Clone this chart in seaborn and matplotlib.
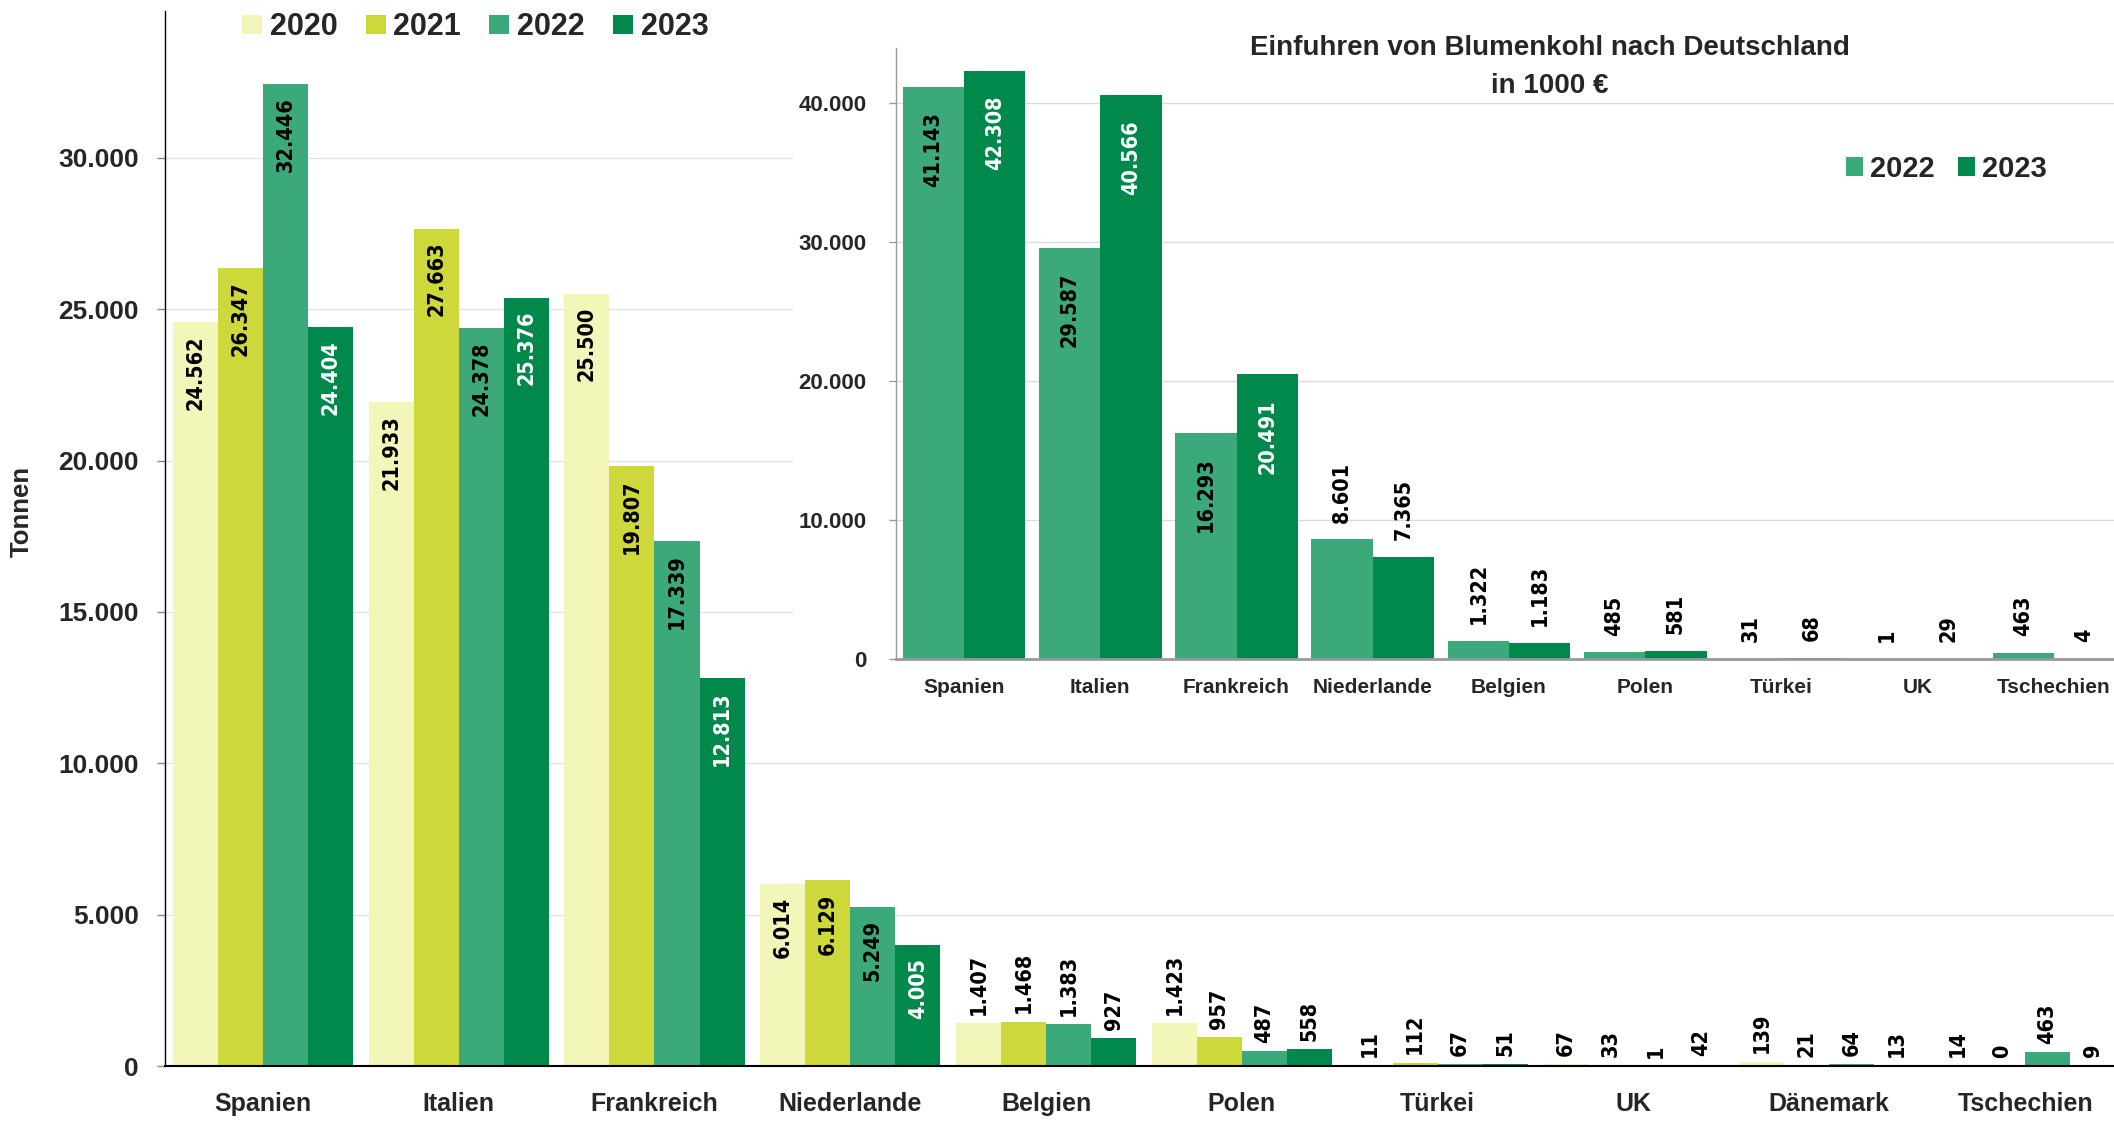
import matplotlib
matplotlib.use("Agg")
import matplotlib.pyplot as plt
from matplotlib.patches import Rectangle
import numpy as np
import pandas as pd
import seaborn as sns

# ---------------- data ----------------
countries = ["Spanien", "Italien", "Frankreich", "Niederlande", "Belgien",
             "Polen", "Türkei", "UK", "Dänemark", "Tschechien"]
years = ["2020", "2021", "2022", "2023"]
t2020 = [24562, 21933, 25500, 6014, 1407, 1423, 11, 67, 139, 14]
t2021 = [26347, 27663, 19807, 6129, 1468, 957, 112, 33, 21, 0]
t2022 = [32446, 24378, 17339, 5249, 1383, 487, 67, 1, 64, 463]
t2023 = [24404, 25376, 12813, 4005, 927, 558, 51, 42, 13, 9]

inset_countries = ["Spanien", "Italien", "Frankreich", "Niederlande", "Belgien",
                   "Polen", "Türkei", "UK", "Tschechien"]
inset_years = ["2022", "2023"]
e2022 = [41143, 29587, 16293, 8601, 1322, 485, 31, 1, 463]
e2023 = [42308, 40566, 20491, 7365, 1183, 581, 68, 29, 4]

main_yticks = [0, 5000, 10000, 15000, 20000, 25000, 30000]
inset_yticks = [0, 10000, 20000, 30000, 40000]
inset_title = ["Einfuhren von Blumenkohl nach Deutschland", "in 1000 €"]

palette = {"2020": "#F2F6B9", "2021": "#CFD83A", "2022": "#3CA97A", "2023": "#00894B"}

def de(v):
    return f"{v:,}".replace(",", ".")

# ---------------- style ----------------
sns.set_style("white")
plt.rcParams["font.family"] = ["Liberation Sans", "DejaVu Sans"]
plt.rcParams["font.weight"] = "bold"
plt.rcParams["axes.labelweight"] = "bold"

LBL = dict(family=["DejaVu Sans"], stretch="condensed", weight="bold", fontsize=15.5)

W, H, DPI = 2114, 1121, 100
fig = plt.figure(figsize=(W / DPI, H / DPI), dpi=DPI)

def fx(px):
    return px / W

def fy(py):
    return 1 - py / H

# ---------------- main chart ----------------
rows = []
for yr, vals in zip(years, [t2020, t2021, t2022, t2023]):
    for c, v in zip(countries, vals):
        rows.append({"Land": c, "Jahr": yr, "Tonnen": v})
df_main = pd.DataFrame(rows)

ax = fig.add_axes([fx(165), fy(1066), (2123 - 165) / W, (1066 - 11) / H])
sns.barplot(data=df_main, x="Land", y="Tonnen", hue="Jahr", order=countries,
            hue_order=years, palette=palette, width=0.92, gap=0, saturation=1,
            errorbar=None, linewidth=0, ax=ax)
ax.set_xlim(-0.5, len(countries) - 0.5)
ax.set_ylim(0, 34850)

for cont, yr in zip(ax.containers, years):
    for bar in cont:
        v = int(round(bar.get_height()))
        xc = bar.get_x() + bar.get_width() / 2
        if v > 3000:
            col = "white" if yr == "2023" else "black"
            ax.annotate(de(v), (xc, v), xytext=(0, -9.5), textcoords="offset points",
                        rotation=90, ha="center", va="top", color=col, **LBL)
        else:
            ax.annotate(de(v), (xc, v), xytext=(0, 6), textcoords="offset points",
                        rotation=90, ha="center", va="bottom", color="black", **LBL)

ax.set_xticks(range(len(countries)))
ax.set_xticklabels(countries, fontsize=18, fontweight="bold")
ax.set_xticks(np.arange(-0.5, len(countries), 1), minor=True)
ax.tick_params(axis="x", which="major", length=0, pad=19)
ax.tick_params(axis="x", which="minor", length=10, width=1, color="#555555", direction="out")
ax.set_yticks(main_yticks)
ax.set_yticklabels([de(v) for v in main_yticks], fontsize=19, fontweight="bold")
ax.tick_params(axis="y", length=6, width=1, color="#888888", pad=13, left=True)
ax.yaxis.grid(True, color="#E3E3E3", lw=1)
ax.xaxis.grid(False)
ax.set_axisbelow(True)
ax.set_xlabel("")
ax.set_ylabel("Tonnen", fontsize=18.5, fontweight="bold")
ax.yaxis.label.set_va("center")
ax.yaxis.set_label_coords(-0.073, 0.526)
for s in ["top", "right"]:
    ax.spines[s].set_visible(False)
ax.spines["left"].set_color("black")
ax.spines["left"].set_linewidth(1)
ax.spines["bottom"].set_color("black")
ax.spines["bottom"].set_linewidth(1.5)

handles, labels = ax.get_legend_handles_labels()
ax.legend(handles, labels, loc="center left", bbox_to_anchor=(fx(242), fy(27)),
          bbox_transform=fig.transFigure, ncol=4, frameon=False,
          prop={"size": 22, "weight": "bold"}, handlelength=0.65, handleheight=0.6,
          handletextpad=0.26, columnspacing=0.92, borderpad=0, borderaxespad=0)

# white panel behind the inset
fig.add_artist(Rectangle((fx(793), fy(730)), (W - 793) / W, 730 / H,
                         transform=fig.transFigure, facecolor="white",
                         edgecolor="none", zorder=0.5))

# ---------------- inset chart ----------------
rows = []
for yr, vals in zip(inset_years, [e2022, e2023]):
    for c, v in zip(inset_countries, vals):
        rows.append({"Land": c, "Jahr": yr, "Euro": v})
df_in = pd.DataFrame(rows)

ax2 = fig.add_axes([fx(896), fy(659), (2122 - 896) / W, (659 - 48) / H])
ax2.set_zorder(1)
sns.barplot(data=df_in, x="Land", y="Euro", hue="Jahr", order=inset_countries,
            hue_order=inset_years, palette={k: palette[k] for k in inset_years},
            width=0.90, gap=0, saturation=1, errorbar=None, linewidth=0, ax=ax2)
ax2.set_xlim(-0.5, len(inset_countries) - 0.5)
ax2.set_ylim(0, 43960)

for cont, yr in zip(ax2.containers, inset_years):
    for bar in cont:
        v = int(round(bar.get_height()))
        xc = bar.get_x() + bar.get_width() / 2
        if v > 10000:
            col = "white" if yr == "2023" else "black"
            ax2.annotate(de(v), (xc, v), xytext=(0, -18), textcoords="offset points",
                         rotation=90, ha="center", va="top", color=col, **LBL)
        else:
            ax2.annotate(de(v), (xc, v), xytext=(0, 12), textcoords="offset points",
                         rotation=90, ha="center", va="bottom", color="black", **LBL)

ax2.set_xticks(range(len(inset_countries)))
ax2.set_xticklabels(inset_countries, fontsize=15, fontweight="bold")
ax2.tick_params(axis="x", length=0, pad=14)
ax2.set_yticks(inset_yticks)
ax2.set_yticklabels([de(v) for v in inset_yticks], fontsize=16, fontweight="bold")
ax2.tick_params(axis="y", length=5, width=1, color="#999999", pad=16, left=True)
ax2.yaxis.grid(True, color="#DADADA", lw=1)
ax2.set_axisbelow(True)
ax2.set_xlabel("")
ax2.set_ylabel("")
for s in ["top", "right"]:
    ax2.spines[s].set_visible(False)
ax2.spines["left"].set_color("#999999")
ax2.spines["left"].set_linewidth(1)
ax2.spines["bottom"].set_color("#999999")
ax2.spines["bottom"].set_linewidth(2)

h2, l2 = ax2.get_legend_handles_labels()
ax2.legend(h2, l2, loc="center left", bbox_to_anchor=(fx(1846), fy(169)),
           bbox_transform=fig.transFigure, ncol=2, frameon=False,
           prop={"size": 21, "weight": "bold"}, handlelength=0.58, handleheight=0.62,
           handletextpad=0.25, columnspacing=0.8, borderpad=0, borderaxespad=0)

fig.text(fx(1550), fy(55), inset_title[0], ha="center", va="baseline",
         fontsize=20, fontweight="bold", zorder=3)
fig.text(fx(1550), fy(93), inset_title[1], ha="center", va="baseline",
         fontsize=20, fontweight="bold", zorder=3)

fig.savefig("out.png", dpi=DPI)
